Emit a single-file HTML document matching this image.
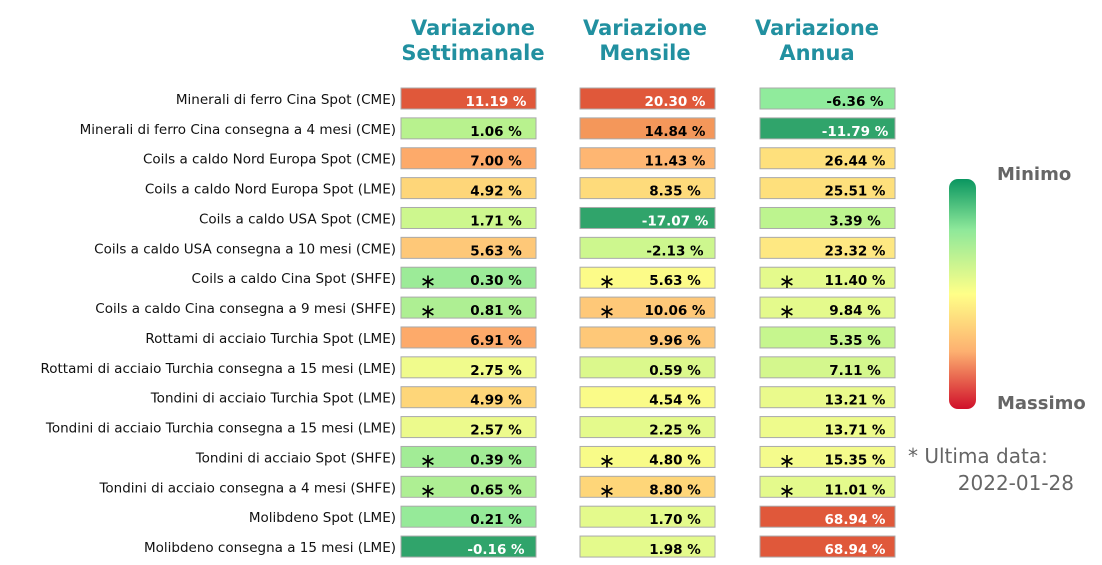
<!DOCTYPE html>
<html><head><meta charset="utf-8"><style>
body{margin:0;background:#fff}
svg{display:block;font-family:"DejaVu Sans","Liberation Sans",sans-serif}
</style></head><body>
<svg id="c" width="1102" height="565" viewBox="0 0 1102 565">
<defs><linearGradient id="g" x1="0" y1="0" x2="0" y2="1">
<stop offset="0" stop-color="#0a9660"/><stop offset="0.22" stop-color="#8ee89a"/>
<stop offset="0.5" stop-color="#ffff88"/><stop offset="0.75" stop-color="#fdb070"/>
<stop offset="1" stop-color="#d0102a"/></linearGradient></defs>
<g fill="#2190a0" font-weight="bold" font-size="21" text-anchor="middle">
<text x="473" y="35"><tspan x="473">Variazione</tspan><tspan x="473" dy="25">Settimanale</tspan></text>
<text x="645" y="35"><tspan x="645">Variazione</tspan><tspan x="645" dy="25">Mensile</tspan></text>
<text x="817" y="35"><tspan x="817">Variazione</tspan><tspan x="817" dy="25">Annua</tspan></text>
</g>
<g id="rows"></g>
<rect x="949" y="179" width="27" height="230" rx="9" fill="url(#g)"/>
<text x="997" y="180" font-size="18" font-weight="bold" fill="#666">Minimo</text>
<text x="997" y="409" font-size="18" font-weight="bold" fill="#666">Massimo</text>
<text x="908" y="463" font-size="20" fill="#666">* Ultima data:</text>
<text x="1074" y="490" font-size="20" fill="#666" text-anchor="end">2022-01-28</text>
</svg>
<script>
const labels=["Minerali di ferro Cina Spot (CME)","Minerali di ferro Cina consegna a 4 mesi (CME)","Coils a caldo Nord Europa Spot (CME)","Coils a caldo Nord Europa Spot (LME)","Coils a caldo USA Spot (CME)","Coils a caldo USA consegna a 10 mesi (CME)","Coils a caldo Cina Spot (SHFE)","Coils a caldo Cina consegna a 9 mesi (SHFE)","Rottami di acciaio Turchia Spot (LME)","Rottami di acciaio Turchia consegna a 15 mesi (LME)","Tondini di acciaio Turchia Spot (LME)","Tondini di acciaio Turchia consegna a 15 mesi (LME)","Tondini di acciaio Spot (SHFE)","Tondini di acciaio consegna a 4 mesi (SHFE)","Molibdeno Spot (LME)","Molibdeno consegna a 15 mesi (LME)"];
const weekly=[11.19,1.06,7.00,4.92,1.71,5.63,0.30,0.81,6.91,2.75,4.99,2.57,0.39,0.65,0.21,-0.16];
const monthly=[20.30,14.84,11.43,8.35,-17.07,-2.13,5.63,10.06,9.96,0.59,4.54,2.25,4.80,8.80,1.70,1.98];
const annual=[-6.36,-11.79,26.44,25.51,3.39,23.32,11.40,9.84,5.35,7.11,13.21,13.71,15.35,11.01,68.94,68.94];
const starred=[false,false,false,false,false,false,true,true,false,false,false,false,true,true,false,false];
const wCol=["#e0583a","#b8f28e","#fdaa6a","#fed679","#cdf78e","#fec878","#9ceb98","#aeef93","#fdaa6a","#f0fb8c","#fed679","#ecfa8c","#a2ec96","#aeef93","#96ea99","#30a46b"];
const mCol=["#e0583a","#f4975a","#feb672","#fedb7b","#30a46b","#cdf78e","#fcfb88","#fec878","#fec878","#dbf88c","#fafb88","#e4fa8c","#f8fb88","#fed679","#e4fa8c","#e4fa8c"];
const aCol=["#90eb9c","#30a46b","#fee07c","#fee07c","#bdf48f","#fee882","#e4fa8c","#e4fa8c","#c6f68e","#d4f78d","#eafa8c","#eefb8c","#f4fb8c","#e4fa8c","#e0583a","#e0583a"];
const NS="http://www.w3.org/2000/svg";
const g=document.getElementById('rows');
const rowY=i=>88+i*29.87;
const cols=[{x:401,vals:weekly,cols:wCol,name:'weekly'},{x:580,vals:monthly,cols:mCol,name:'monthly'},{x:760,vals:annual,cols:aCol,name:'annual'}];
function mk(t,a){const e=document.createElementNS(NS,t);for(const k in a)e.setAttribute(k,a[k]);return e;}
const dark=c=>c==="#e0583a"||c==="#30a46b";
labels.forEach((l,i)=>{
  const y=rowY(i);
  const t=mk('text',{x:396,y:y+16,'font-size':13.5,'text-anchor':'end',fill:'#111'});
  
  
  t.textContent=l;g.appendChild(t);
  cols.forEach(c=>{
    const r=mk('rect',{x:c.x,y:y,width:135,height:21,fill:c.cols[i],stroke:'#aaa','stroke-width':1});
    
    
    g.appendChild(r);
    const v=mk('text',{x:c.x+95,y:y+18,'font-size':13.5,'font-weight':'bold','text-anchor':'middle',fill:dark(c.cols[i])?'#fff':'#000'});
    
    
    v.textContent=c.vals[i].toFixed(2)+' %';g.appendChild(v);
    if(starred[i]){
      const s=mk('text',{x:c.x+27,y:y+21,'font-size':20,'text-anchor':'middle',fill:'#000'});
      
      
      s.textContent='∗';g.appendChild(s);
    }
  });
});
</script>
</body></html>
